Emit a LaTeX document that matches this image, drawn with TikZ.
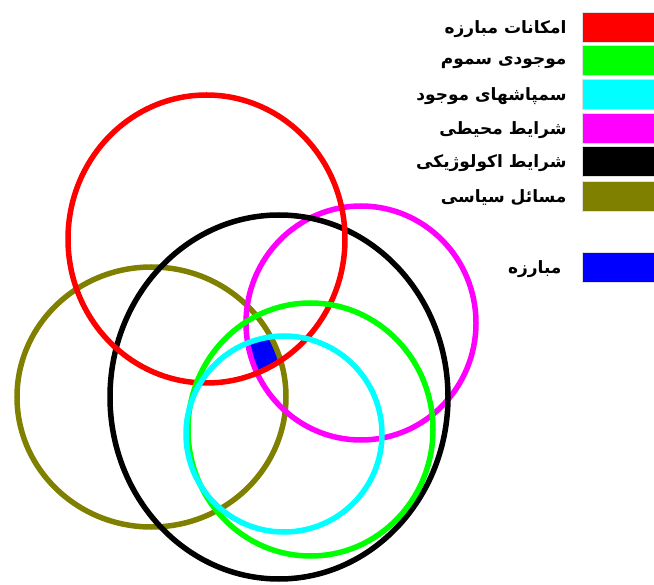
\documentclass[tikz,border=0pt]{standalone}
\usepackage{fontspec}
\newfontfamily\farsi[Script=Arabic,BoldFont={DejaVu Sans Bold}]{DejaVu Sans}
\TeXXeTstate=1
\usetikzlibrary{positioning}

\definecolor{cRed}{RGB}{255,0,0}
\definecolor{cGreen}{RGB}{0,255,0}
\definecolor{cCyan}{RGB}{0,255,255}
\definecolor{cMagenta}{RGB}{255,0,255}
\definecolor{cOlive}{RGB}{128,128,0}
\definecolor{cBlue}{RGB}{0,0,255}

\begin{document}
\begin{tikzpicture}[
  x=1pt, y=-1pt,
  ring/.style={line width=5.5pt},
  swatch/.style={draw=gray!25, line width=0.6pt, minimum width=72pt, minimum height=30pt, inner sep=0pt},
  lab/.style={font=\farsi\bfseries\fontsize{17}{20}\selectfont, inner sep=0pt, anchor=east, yshift=-2pt}
]
  \useasboundingbox (0,0) rectangle (654,585);

  % Zone commune
  \begin{scope}
    \clip (206.5,239) ellipse [x radius=138.5pt, y radius=144pt];
    \clip (310.5,429.5) ellipse [x radius=122.5pt, y radius=126.5pt];
    \clip (284,434) ellipse [x radius=98pt, y radius=98pt];
    \clip (361,323) ellipse [x radius=115pt, y radius=117pt];
    \clip (279,397) ellipse [x radius=169pt, y radius=182pt];
    \clip (151.5,397) ellipse [x radius=134.5pt, y radius=130pt];
    \fill[cBlue] (0,0) rectangle (654,585);
  \end{scope}

  % Cercles
  \draw[ring, cOlive] (151.5,397) ellipse [x radius=134.5pt, y radius=130pt];
  \draw[ring, cMagenta] (361,323) ellipse [x radius=115pt, y radius=117pt];
  \draw[ring, black] (279,397) ellipse [x radius=169pt, y radius=182pt];
  \draw[ring, cRed] (206.5,239) ellipse [x radius=138.5pt, y radius=144pt];
  \draw[ring, cGreen] (310.5,429.5) ellipse [x radius=122.5pt, y radius=126.5pt];
  \draw[ring, cCyan] (284,434) ellipse [x radius=98pt, y radius=98pt];

  % Legende
  \node[swatch, fill=cRed] (sRed) at (618,27) {};
  \node[swatch, fill=cGreen] (sGreen) at (618,60.5) {};
  \node[swatch, fill=cCyan] (sCyan) at (618,94) {};
  \node[swatch, fill=cMagenta] (sMagenta) at (618,128) {};
  \node[swatch, fill=black] (sBlack) at (618,161.5) {};
  \node[swatch, fill=cOlive] (sOlive) at (618,196) {};
  \node[swatch, fill=cBlue] (sBlue) at (618,267) {};

  \node[lab, left=15pt of sRed] (tRed) {\beginR امکانات مبارزه\endR};
  \node[lab, left=15pt of sGreen] (tGreen) {\beginR موجودی سموم\endR};
  \node[lab, left=15pt of sCyan] (tCyan) {\beginR سمپاشهای موجود\endR};
  \node[lab, left=15pt of sMagenta] (tMagenta) {\beginR شرایط محیطی\endR};
  \node[lab, left=15pt of sBlack] (tBlack) {\beginR شرایط اکولوژیکی\endR};
  \node[lab, left=15pt of sOlive] (tOlive) {\beginR مسائل سیاسی\endR};
  \node[lab, left=20pt of sBlue] (tBlue) {\beginR مبارزه\endR};
\end{tikzpicture}
\end{document}
